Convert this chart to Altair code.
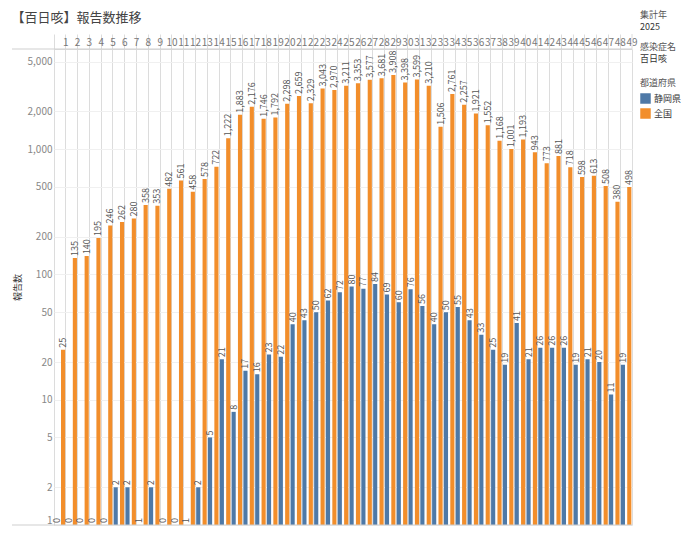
import altair as alt
import pandas as pd

weeks = list(range(1, 50))
shizuoka = [0, 0, 0, 0, 0, 2, 2, 1, 2, 0, 0, 1, 2, 5, 21, 8, 17, 16, 23, 22,
            40, 43, 50, 62, 72, 80, 77, 84, 69, 60, 76, 56, 40, 50, 55, 43, 33, 25, 19, 41,
            21, 26, 26, 26, 19, 21, 20, 11, 19]
national = [25, 135, 140, 195, 246, 262, 280, 358, 353, 482, 561, 458, 578, 722, 1222, 1883,
            2176, 1746, 1792, 2298, 2659, 2329, 3043, 2970, 3211, 3353, 3577, 3681, 3908, 3398,
            3599, 3210, 1506, 2761, 2257, 1921, 1552, 1168, 1001, 1193, 943, 773, 881, 718,
            598, 613, 508, 380, 498]
prefs = ["静岡県", "全国"]
colors = ["#4e79a7", "#f28e2b"]
y_ticks = [1, 2, 5, 10, 20, 50, 100, 200, 500, 1000, 2000, 5000]

rows = []
for w, s, n in zip(weeks, shizuoka, national):
    rows.append({"週": w, "都道府県": prefs[0], "報告数": s})
    rows.append({"週": w, "都道府県": prefs[1], "報告数": n})
df = pd.DataFrame(rows)

FONT = "Noto Sans CJK JP"
W, H = 578, 476

x_enc = alt.X("週:O", scale=alt.Scale(paddingInner=0, paddingOuter=0),
              axis=alt.Axis(orient="top", title=None, labelAngle=0, bandPosition=0,
                            grid=True, gridColor="#dcdcdc", tickSize=15, tickColor="#dcdcdc",
                            labelOffset=5.9, labelPadding=-13, domain=False,
                            labelColor="#777", labelFontSize=10, labelFont=FONT))
xoff = alt.XOffset("都道府県:N", sort=prefs,
                   scale=alt.Scale(paddingInner=0.35, paddingOuter=0.1))
y_enc = alt.Y("plot:Q", scale=alt.Scale(type="log", domain=[1, 6300], nice=False),
              axis=alt.Axis(values=y_ticks, format=",d", title="報告数", grid=True,
                            gridColor="#f0f0f0", domain=False, ticks=False,
                            labelColor="#888", labelFontSize=10, labelFont=FONT,
                            titleFont=FONT, titleFontSize=9, titleColor="#333",
                            titleFontWeight="normal", labelFlush=True, titlePadding=5))

base = alt.Chart(df).transform_calculate(plot="max(datum['報告数'], 1)", floor1="1")

bars = base.mark_bar().encode(
    x=x_enc, xOffset=xoff, y=y_enc, y2=alt.Y2("floor1:Q"),
    color=alt.Color("都道府県:N", sort=prefs,
                    scale=alt.Scale(domain=prefs, range=colors),
                    legend=alt.Legend(orient="none", legendX=W + 8, legendY=30,
                                      title="都道府県", titleFont=FONT, titleFontSize=9,
                                      titleFontWeight="normal", titleColor="#555",
                                      labelFont=FONT, labelFontSize=9, labelColor="#333",
                                      symbolType="square", symbolSize=110,
                                      symbolStrokeWidth=0, symbolOpacity=1,
                                      labelOffset=3, rowPadding=4)),
)

labels = base.mark_text(angle=270, align="left", baseline="middle", dx=2,
                        fontSize=9, color="#555", font=FONT).encode(
    x=x_enc, xOffset=xoff, y=y_enc,
    text=alt.Text("報告数:Q", format=",d"),
)

one = pd.DataFrame({"k": [0]})
def note(txt, xp, yp, color):
    return alt.Chart(one).mark_text(align="left", baseline="middle", fontSize=9,
                                    font=FONT, color=color).encode(
        x=alt.value(xp), y=alt.value(yp), text=alt.value(txt))

notes = (note("集計年", W + 8, -34, "#555") + note("2025", W + 8, -22, "#333")
         + note("感染症名", W + 8, -2, "#555") + note("百日咳", W + 8, 10, "#333"))

header_line = alt.Chart(one).mark_rule(color="#cfcfcf").encode(
    x=alt.value(-42), x2=alt.value(W), y=alt.value(0))
bottom_line = alt.Chart(one).mark_rule(color="#cfcfcf").encode(
    x=alt.value(-42), x2=alt.value(W), y=alt.value(H))
right_tick = alt.Chart(one).mark_rule(color="#dcdcdc").encode(
    x=alt.value(W), y=alt.value(-15), y2=alt.value(0))

chart = alt.layer(bars, labels, notes, header_line, bottom_line, right_tick).properties(
    width=W, height=H,
    title=alt.TitleParams("【百日咳】報告数推移", anchor="start", fontSize=13, font=FONT,
                          fontWeight="normal", color="#444", offset=-14),
).configure_view(stroke="#dcdcdc").configure(padding={"left": 3, "top": 3, "right": 0, "bottom": 0})

chart.save("out.html", embed_options={"renderer": "svg", "actions": False})
